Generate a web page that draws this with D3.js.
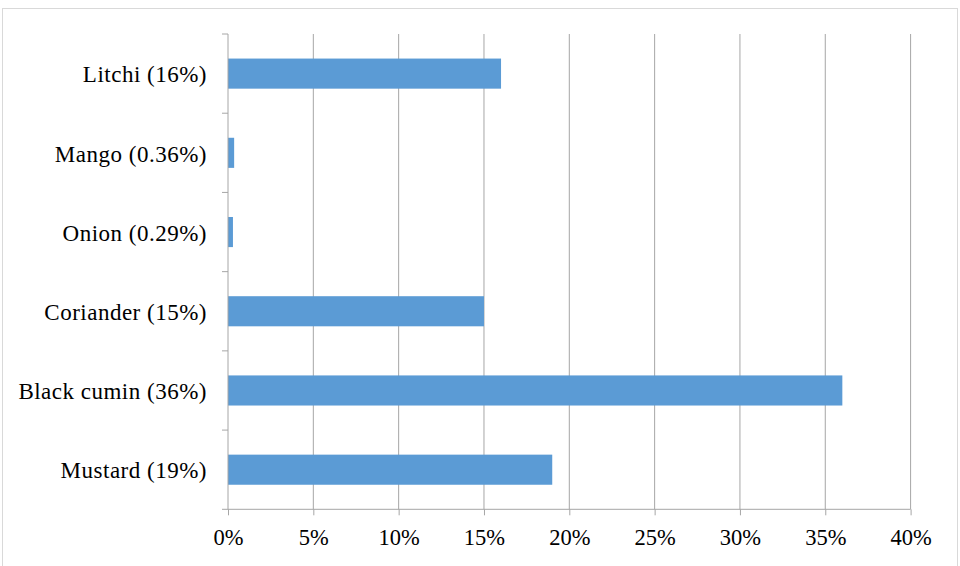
<!DOCTYPE html>
<html>
<head>
<meta charset="utf-8">
<script src="https://cdn.jsdelivr.net/npm/d3@7"></script>
<style>
  body { margin: 0; background: #fff; }
</style>
</head>
<body>
<div id="main"></div>
<script>
// chart data
const categories = ['Litchi (16%)', 'Mango (0.36%)', 'Onion (0.29%)', 'Coriander (15%)', 'Black cumin (36%)', 'Mustard (19%)'];
const values = [16, 0.36, 0.29, 15, 36, 19];
const xTicks = [0, 5, 10, 15, 20, 25, 30, 35, 40];

const W = 960;
const H = 566;
const PLOT = { left: 228, right: 910.6, top: 34, bottom: 509.3 };
const FONT = "'Liberation Serif', 'Times New Roman', serif";

const svg = d3.select('#main')
  .append('svg')
  .attr('width', W)
  .attr('height', H);

// outer border
svg.append('rect')
  .attr('x', 2.5)
  .attr('y', 8.5)
  .attr('width', 955)
  .attr('height', 570)
  .attr('fill', 'none')
  .attr('stroke', '#d9d9d9');

const xScale = d3.scaleLinear()
  .domain([0, 40])
  .range([PLOT.left, PLOT.right]);

const yScale = d3.scaleBand()
  .domain(categories)
  .range([PLOT.top, PLOT.bottom])
  .paddingInner(0.62)
  .paddingOuter(0.31);

// vertical gridlines
svg.append('g')
  .selectAll('line')
  .data(xTicks.slice(1))
  .enter()
  .append('line')
  .attr('x1', (d) => xScale(d))
  .attr('x2', (d) => xScale(d))
  .attr('y1', PLOT.top)
  .attr('y2', PLOT.bottom)
  .attr('stroke', '#a6a6a6')
  .attr('stroke-width', 1);

// bars
svg.append('g')
  .selectAll('rect')
  .data(values)
  .enter()
  .append('rect')
  .attr('x', xScale(0))
  .attr('y', (d, i) => yScale(categories[i]))
  .attr('width', (d) => xScale(d) - xScale(0))
  .attr('height', yScale.bandwidth())
  .attr('fill', '#5b9bd5');

// x axis
const xAxisGroup = svg.append('g')
  .attr('transform', `translate(0,${PLOT.bottom})`)
  .call(d3.axisBottom(xScale).tickValues(xTicks).tickSize(6).tickPadding(14).tickFormat((d) => d + '%'));
xAxisGroup.attr('font-family', null).attr('font-size', null);
xAxisGroup.select('.domain').attr('stroke', '#a6a6a6').attr('d', `M${PLOT.left},0H${PLOT.right}`);
xAxisGroup.selectAll('.tick line').attr('stroke', '#a6a6a6');
xAxisGroup.selectAll('text')
  .style('font-family', FONT)
  .style('font-size', '22.5px')
  .attr('fill', '#000');

// y axis, ticks sit on category boundaries
const step = yScale.step();
const boundaries = d3.range(categories.length + 1).map((i) => PLOT.top + i * step);
const yAxisGroup = svg.append('g');
yAxisGroup.append('line')
  .attr('x1', PLOT.left)
  .attr('x2', PLOT.left)
  .attr('y1', PLOT.top)
  .attr('y2', PLOT.bottom)
  .attr('stroke', '#a6a6a6');
yAxisGroup.selectAll('.ytick')
  .data(boundaries)
  .enter()
  .append('line')
  .attr('class', 'ytick')
  .attr('x1', PLOT.left - 6)
  .attr('x2', PLOT.left)
  .attr('y1', (d) => d)
  .attr('y2', (d) => d)
  .attr('stroke', '#a6a6a6');
yAxisGroup.selectAll('.ylabel')
  .data(categories)
  .enter()
  .append('text')
  .attr('class', 'ylabel')
  .attr('x', PLOT.left - 21)
  .attr('y', (d) => yScale(d) + yScale.bandwidth() / 2)
  .attr('dy', '0.38em')
  .attr('text-anchor', 'end')
  .style('font-family', FONT)
  .style('font-size', '23px')
  .style('letter-spacing', '0.5px')
  .text((d) => d);
</script>
</body>
</html>
